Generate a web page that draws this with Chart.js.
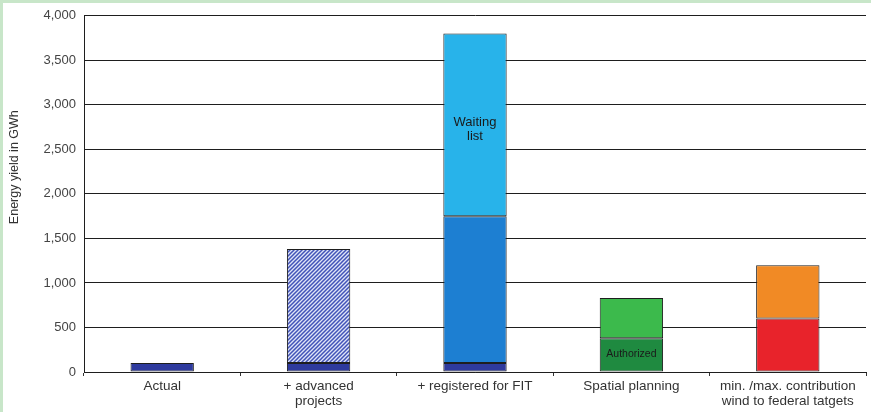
<!DOCTYPE html>
<html>
<head>
<meta charset="utf-8">
<script src="https://cdn.jsdelivr.net/npm/chart.js@4.4.1/dist/chart.umd.min.js"></script>
<style>
html,body{margin:0;padding:0;background:#fff;}
#wrap{width:871px;height:412px;position:relative;}
</style>
</head>
<body>
<div id="wrap"><canvas id="c" width="871" height="412"></canvas></div>
<script>
const categories = ["Actual", ["+ advanced", "projects"], "+ registered for FIT", "Spatial planning", ["min. /max. contribution", "wind to federal tatgets"]];
const actualValues     = [100, 100, 100, null, null];
const advancedValues   = [null, 1280, null, null, null];
const registeredValues = [null, null, 1650, null, null];
const waitingValues    = [null, null, 2050, null, null];
const authorizedValues = [null, null, null, 380, null];
const spatialValues    = [null, null, null, 450, null];
const minValues        = [null, null, null, null, 600];
const maxValues        = [null, null, null, null, 600];
const yTicks = [0, 500, 1000, 1500, 2000, 2500, 3000, 3500, 4000];
const yTitle = 'Energy yield in GWh';
const annotations = [
  {text: ["Waiting", "list"], index: 2, value: 2725, size: 13},
  {text: ["Authorized"], index: 3, value: 200, size: 10.5}
];
const FONT = '"Liberation Sans", Arial, sans-serif';

function hatch() {
  const p = document.createElement('canvas');
  p.width = 4; p.height = 4;
  const g = p.getContext('2d');
  g.fillStyle = '#dfe4f7';
  g.fillRect(0, 0, 4, 4);
  g.strokeStyle = '#4253b8';
  g.lineWidth = 1.5;
  g.beginPath();
  g.moveTo(-1, 5); g.lineTo(5, -1);
  g.moveTo(-1, 1); g.lineTo(1, -1);
  g.moveTo(3, 5); g.lineTo(5, 3);
  g.stroke();
  return g.createPattern(p, 'repeat');
}

const bgPlugin = {
  id: 'bg',
  beforeDraw(chart) {
    const ctx = chart.ctx;
    ctx.save();
    ctx.fillStyle = '#ffffff';
    ctx.fillRect(0, 0, chart.width, chart.height);
    ctx.fillStyle = '#c8e6c9';
    ctx.fillRect(0, 0, chart.width, 3);
    ctx.fillRect(0, 0, 3, chart.height);
    ctx.restore();
  }
};

const textPlugin = {
  id: 'txt',
  afterDatasetsDraw(chart) {
    const ctx = chart.ctx;
    const xs = chart.scales.x, ys = chart.scales.y;
    ctx.save();
    ctx.fillStyle = '#1a1a1a';
    ctx.textAlign = 'center';
    ctx.textBaseline = 'middle';
    annotations.forEach(a => {
      ctx.font = a.size + 'px ' + FONT;
      const x = xs.getPixelForValue(a.index);
      const y = ys.getPixelForValue(a.value);
      const lh = a.size + 1;
      const y0 = y - (a.text.length - 1) * lh / 2;
      a.text.forEach((t, i) => ctx.fillText(t, x, y0 + i * lh));
    });
    // y-axis title
    ctx.fillStyle = '#333';
    ctx.font = '12.5px ' + FONT;
    ctx.translate(15, ys.getPixelForValue(2300));
    ctx.rotate(-Math.PI / 2);
    ctx.fillText(yTitle, 0, 0);
    ctx.restore();
  }
};

function ds(label, data, color) {
  return {label, data, backgroundColor: color, borderColor: '#1e1e1e', borderWidth: 1, borderSkipped: false,
    categoryPercentage: 0.405, barPercentage: 1};
}

new Chart(document.getElementById('c'), {
  type: 'bar',
  data: {
    labels: categories,
    datasets: [
      ds('Actual', actualValues, '#2e3a9e'),
      ds('Advanced projects', advancedValues, hatch()),
      ds('Registered for FIT', registeredValues, '#1d7fd2'),
      ds('Waiting list', waitingValues, '#28b3ea'),
      ds('Authorized', authorizedValues, '#1f8a40'),
      ds('Spatial planning', spatialValues, '#3cba4c'),
      ds('Min', minValues, '#e8232b'),
      ds('Max', maxValues, '#f18a25')
    ]
  },
  options: {
    responsive: false,
    animation: false,
    layout: {padding: {left: 3, right: 5, top: 15, bottom: 0}},
    plugins: {legend: {display: false}, tooltip: {enabled: false}},
    scales: {
      x: {
        stacked: true,
        offset: true,
        afterFit(s) { s.height = 40; },
        grid: {display: true, drawOnChartArea: false, drawTicks: true, tickLength: 4, color: '#333', offset: true},
        border: {display: true, color: '#1e1e1e', width: 1},
        ticks: {color: '#333', font: {family: FONT, size: 13.5, lineHeight: 1.1}, padding: 3, maxRotation: 0, autoSkip: false}
      },
      y: {
        stacked: true,
        min: 0, max: 4000,
        afterFit(s) { s.width = 81; },
        afterBuildTicks(s) { s.ticks = yTicks.map(v => ({value: v})); },
        grid: {color: '#1e1e1e', lineWidth: 1, drawTicks: false},
        border: {display: true, color: '#1e1e1e', width: 1},
        ticks: {color: '#444', padding: 8, font: {family: FONT, size: 13},
          callback: v => v.toLocaleString('en-US')},
        title: {display: false}
      }
    }
  },
  plugins: [bgPlugin, textPlugin]
});
</script>
</body>
</html>
